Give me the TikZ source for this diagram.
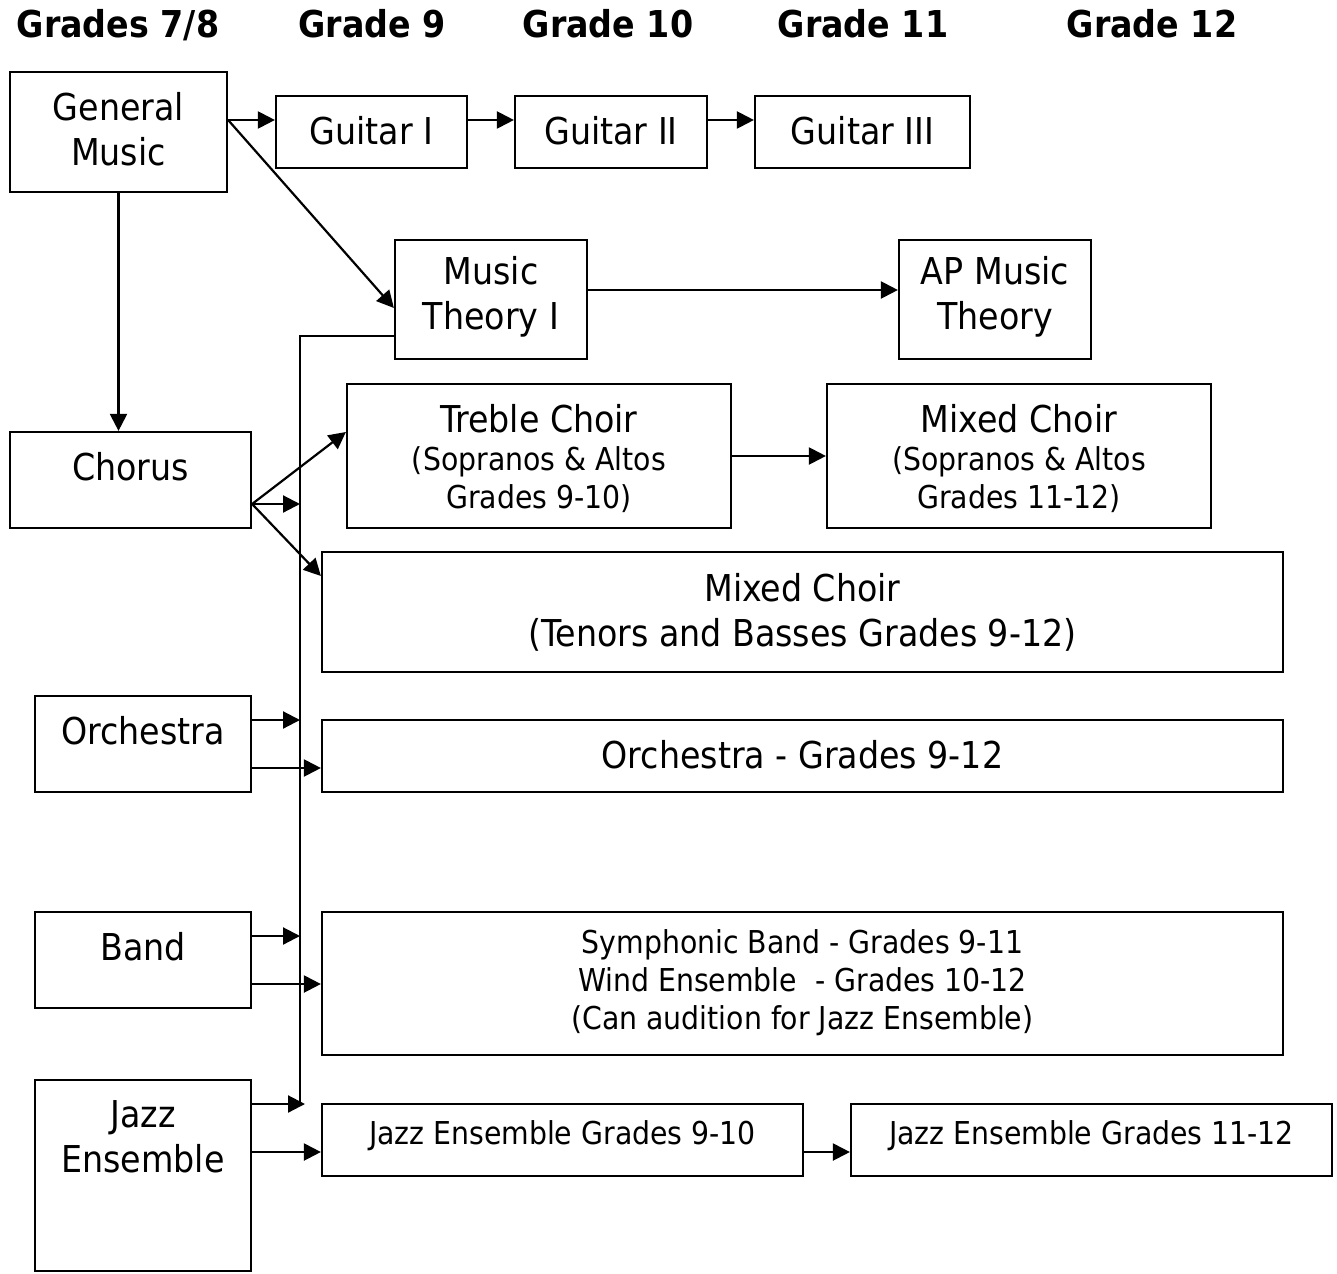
\documentclass[tikz,border=0pt]{standalone}
\usepackage{fontspec}
\setmainfont{DejaVu Sans Condensed}
\usetikzlibrary{arrows.meta}
\newcommand{\bigf}{\fontsize{37}{45}\selectfont}
\newcommand{\smallf}{\fontsize{31.5}{38}\selectfont}
\tikzset{
  box/.style={draw, line width=2.2pt, inner sep=0pt, rectangle},
  lab/.style={align=center, inner sep=0pt, font=\bigf},
  slab/.style={align=center, inner sep=0pt, font=\smallf},
  hdr/.style={anchor=base, inner sep=0pt, font=\fontsize{37}{45}\selectfont\bfseries},
  arr/.style={line width=2.2pt, -{Triangle[length=17pt,width=17pt]}},
  bus/.style={line width=2.2pt}
}
\begin{document}
\begin{tikzpicture}[x=1pt,y=-1pt]
\useasboundingbox (0,0) rectangle (1337,1273);
% headers
\node[hdr] (h78) at (118,38) {Grades 7/8};
\node[hdr] (h9)  at (372,38) {Grade 9};
\node[hdr] (h10) at (608,38) {Grade 10};
\node[hdr] (h11) at (863,38) {Grade 11};
\node[hdr] (h12) at (1152,38) {Grade 12};
% boxes
\node[box, minimum width=217pt, minimum height=120pt,
  label={[lab,yshift=2.5pt]center:{General\\Music}}] (gm) at (118.5,132) {};
\node[box, minimum width=191pt, minimum height=72pt,
  label={[lab,yshift=1pt]center:{Guitar I}}] (g1) at (371.5,132) {};
\node[box, minimum width=192pt, minimum height=72pt,
  label={[lab,yshift=1pt]center:{Guitar II}}] (g2) at (611,132) {};
\node[box, minimum width=215pt, minimum height=72pt,
  label={[lab,yshift=1pt]center:{Guitar III}}] (g3) at (862.5,132) {};
\node[box, minimum width=192pt, minimum height=119pt,
  label={[lab,yshift=2.5pt]center:{Music\\Theory I}}] (mt) at (491,299.5) {};
\node[box, minimum width=192pt, minimum height=119pt,
  label={[lab,yshift=2.5pt]center:{AP Music\\Theory}}] (ap) at (995,299.5) {};
\node[box, minimum width=241pt, minimum height=96pt,
  label={[lab,yshift=13pt]center:{Chorus}}] (chorus) at (130.5,480) {};
\node[box, minimum width=384pt, minimum height=144pt,
  label={[slab,yshift=-3pt]center:{{\bigf Treble Choir}\\(Sopranos \& Altos\\Grades 9-10)}}] (treble) at (539,456) {};
\node[box, minimum width=384pt, minimum height=144pt,
  label={[slab,yshift=-3pt]center:{{\bigf Mixed Choir}\\(Sopranos \& Altos\\Grades 11-12)}}] (mixsa) at (1019,456) {};
\node[box, minimum width=961pt, minimum height=120pt,
  label={[lab,yshift=0pt]center:{Mixed Choir\\(Tenors and Basses Grades 9-12)}}] (mixtb) at (802.5,612) {};
\node[box, minimum width=216pt, minimum height=96pt,
  label={[lab,yshift=13pt]center:{Orchestra}}] (orchL) at (143,744) {};
\node[box, minimum width=961pt, minimum height=72pt,
  label={[lab,yshift=1pt]center:{Orchestra - Grades 9-12}}] (orchR) at (802.5,756) {};
\node[box, minimum width=216pt, minimum height=96pt,
  label={[lab,yshift=13pt]center:{Band}}] (band) at (143,960) {};
\node[box, minimum width=961pt, minimum height=143pt,
  label={[slab,yshift=1pt]center:{Symphonic Band - Grades 9-11\\Wind Ensemble~~- Grades 10-12\\(Can audition for Jazz Ensemble)}}] (symph) at (802.5,983.5) {};
\node[box, minimum width=216pt, minimum height=191pt,
  label={[lab,yshift=38.5pt]center:{Jazz\\Ensemble}}] (jazzL) at (143,1175.5) {};
\node[box, minimum width=481pt, minimum height=72pt,
  label={[slab,yshift=4pt]center:{Jazz Ensemble Grades 9-10}}] (jazz1) at (562.5,1140) {};
\node[box, minimum width=481pt, minimum height=72pt,
  label={[slab,yshift=4pt]center:{Jazz Ensemble Grades 11-12}}] (jazz2) at (1091.5,1140) {};
% bus line
\coordinate (bustop) at (300,336);
\coordinate (busbot) at (300,1106);
\draw[bus] (mt.west |- bustop) -- (bustop) -- (busbot);
% arrows
\draw[arr] (gm.east |- 0,120) -- (g1.west |- 0,120);
\draw[arr] (g1.east |- 0,120) -- (g2.west |- 0,120);
\draw[arr] (g2.east |- 0,120) -- (g3.west |- 0,120);
\draw[arr] (gm.east |- 0,120) -- (mt.west |- 0,308);
\draw[arr] (gm.south) -- (gm.south |- chorus.north);
\draw[arr] (mt.east |- 0,290) -- (ap.west |- 0,290);
\draw[arr] (chorus.east |- 0,504) -- (treble.west |- 0,432);
\draw[arr] (chorus.east |- 0,504) -- (bustop |- 0,504);
\draw[arr] (chorus.east |- 0,504) -- (mixtb.west |- 0,576);
\draw[arr] (treble.east) -- (mixsa.west);
\draw[arr] (orchL.east |- 0,720) -- (bustop |- 0,720);
\draw[arr] (orchL.east |- 0,768) -- (orchR.west |- 0,768);
\draw[arr] (band.east |- 0,936) -- (bustop |- 0,936);
\draw[arr] (band.east |- 0,984) -- (symph.west |- 0,984);
\draw[arr] (jazzL.east |- 0,1104) -- (305,1104);
\draw[arr] (jazzL.east |- 0,1152) -- (jazz1.west |- 0,1152);
\draw[arr] (jazz1.east |- 0,1152) -- (jazz2.west |- 0,1152);
\end{tikzpicture}
\end{document}
